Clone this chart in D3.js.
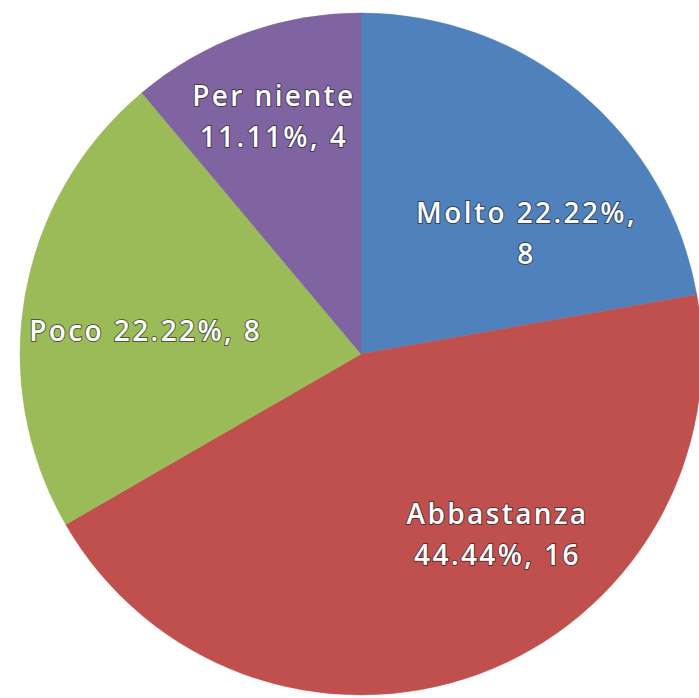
<!DOCTYPE html>
<html>
<head>
<meta charset="utf-8">
<script src="https://cdn.jsdelivr.net/npm/d3@7/dist/d3.min.js"></script>
<style>
  html, body { margin: 0; padding: 0; background: #ffffff; }
  svg { display: block; }
</style>
</head>
<body>
<div id="chart"></div>
<script>
// Survey answers, in clockwise order starting at 12 o'clock
const categories = ["Molto", "Abbastanza", "Poco", "Per niente"];
const counts = [8, 16, 8, 4];
const percentLabels = ["22.22%", "44.44%", "22.22%", "11.11%"];
const colors = ["#4F81BD", "#C0504D", "#9BBB59", "#8064A2"];

// Label text lines per slice
const labelLines = [
  [categories[0] + " " + percentLabels[0] + ",", String(counts[0])],
  [categories[1], percentLabels[1] + ", " + counts[1]],
  [categories[2] + " " + percentLabels[2] + ", " + counts[2]],
  [categories[3], percentLabels[3] + ", " + counts[3]]
];
// Label placement: angle (degrees clockwise from top) and radius as a fraction of the pie radius
const labelPlacement = [
  { angle: 54, dist: 0.60 },
  { angle: 143, dist: 0.665 },
  { angle: 276, dist: 0.635 },
  { angle: 339.8, dist: 0.74 }
];

const width = 699, height = 698;
const cx = 361, cy = 354, radius = 341;

const svg = d3.select("#chart").append("svg")
  .attr("width", width).attr("height", height);

const g = svg.append("g").attr("transform", `translate(${cx},${cy})`);

const pie = d3.pie().sort(null).value(d => d);
const arcs = pie(counts);
const arc = d3.arc().innerRadius(0).outerRadius(radius);

g.selectAll("path.slice")
  .data(arcs)
  .join("path")
  .attr("class", "slice")
  .attr("d", arc)
  .attr("fill", (d, i) => colors[i])
  .attr("stroke", (d, i) => colors[i])
  .attr("stroke-width", 0.5);

const lineHeight = 41;
const labels = g.selectAll("text.lbl")
  .data(arcs)
  .join("text")
  .attr("class", "lbl")
  .attr("transform", (d, i) => {
    const p = labelPlacement[i];
    const a = p.angle * Math.PI / 180;
    const r = p.dist * radius;
    return `translate(${r * Math.sin(a)},${-r * Math.cos(a)})`;
  })
  .attr("text-anchor", "middle")
  .style("font-family", "'Open Sans', Lato, sans-serif")
  .style("font-size", "28px")
  .style("font-weight", "600")
  .style("letter-spacing", "2.4px")
  .attr("fill", "#ffffff")
  .attr("stroke", "rgba(25,25,35,0.6)")
  .attr("stroke-width", 2)
  .attr("paint-order", "stroke");

labels.each(function(d, i) {
  const lines = labelLines[i];
  const t = d3.select(this);
  const offset = -(lines.length - 1) * lineHeight / 2;
  lines.forEach((ln, k) => {
    t.append("tspan")
      .attr("x", 0)
      .attr("y", offset + k * lineHeight)
      .attr("dy", "0.35em")
      .text(ln);
  });
});
</script>
</body>
</html>
